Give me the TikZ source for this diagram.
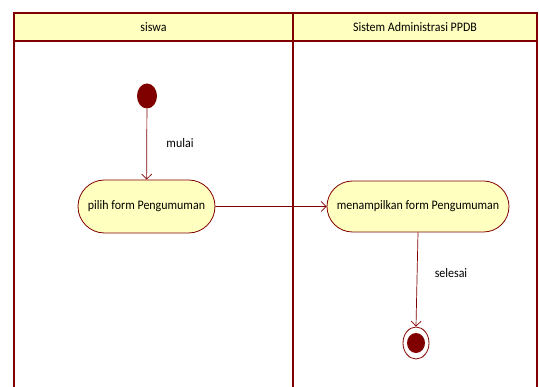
\documentclass[tikz,border=0pt]{standalone}
\usepackage{fontspec}
\setmainfont{Carlito}[FakeStretch=0.92]
\usetikzlibrary{arrows.meta,shapes.misc,shapes.geometric}
\definecolor{umlred}{RGB}{128,0,0}
\definecolor{umlfill}{RGB}{255,255,192}
\tikzset{
  lane/.style={draw=umlred, line width=1.6pt},
  lanehead/.style={draw=umlred, fill=umlfill, line width=1.4pt},
  action/.style={rounded rectangle, draw=umlred, fill=umlfill, line width=0.8pt, inner sep=0pt, font=\fontsize{13}{15}\selectfont},
  flow/.style={draw=umlred, line width=0.7pt, -{Straight Barb[length=5pt,width=10pt]}},
  lbl/.style={font=\fontsize{13}{15}\selectfont, inner sep=0pt}
}
\begin{document}
\begin{tikzpicture}[x=1pt,y=-1pt]
\useasboundingbox (0,0) rectangle (539,387);
% lane headers
\draw[lanehead] (14,13) rectangle (293,41);
\draw[lanehead] (293,13) rectangle (537,41);
\node[lbl] (h1) at (153.5,27.5) {siswa};
\node[lbl] (h2) at (415,27.5) {Sistem Administrasi PPDB};
% lane borders
\draw[lane] (14,41) -- (14,388);
\draw[lane] (293,41) -- (293,388);
\draw[lane] (537,41) -- (537,388);
% start state
\node[ellipse, fill=umlred, minimum width=20pt, minimum height=25pt, inner sep=0pt] (start) at (147,96) {};
% actions
\node[action, minimum width=137pt, minimum height=53pt] (a1) at (146.5,206.5) {pilih form Pengumuman};
\node[action, minimum width=182pt, minimum height=51pt] (a2) at (418,206.5) {menampilkan form Pengumuman};
% final state
\node[ellipse, draw=umlred, line width=0.8pt, minimum width=26pt, minimum height=32pt, inner sep=0pt] (end) at (416,343) {};
\node[ellipse, fill=umlred, minimum width=18pt, minimum height=20pt, inner sep=0pt] (endin) at (416,343) {};
% flows
\draw[flow] (start) -- (a1);
\draw[flow] (a1) -- (a2);
\draw[flow] (a2.south) -- (end.north);
\node[lbl] (l1) at (180,143) {mulai};
\node[lbl] (l2) at (451,273) {selesai};
\end{tikzpicture}
\end{document}
